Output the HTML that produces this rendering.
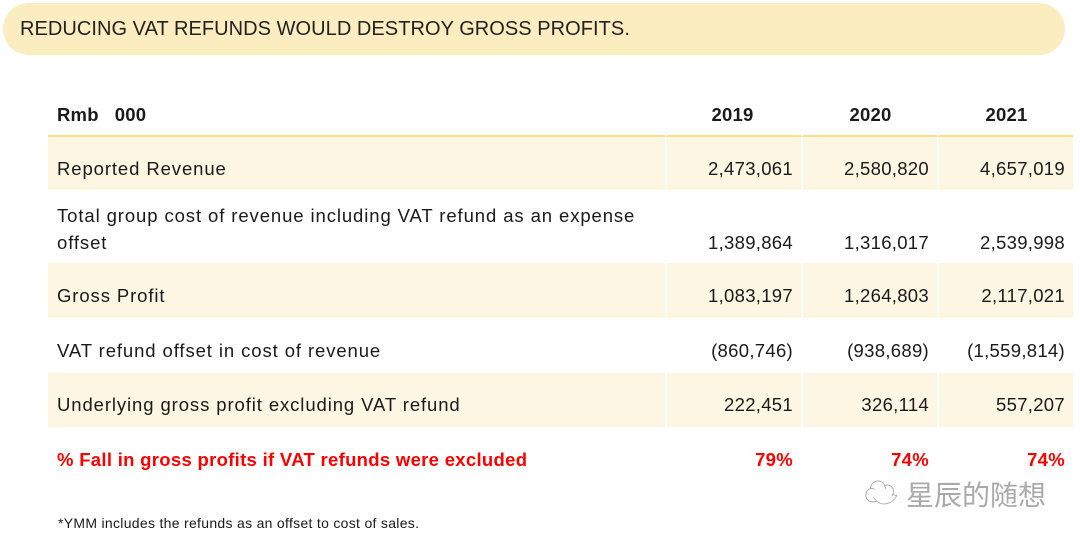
<!DOCTYPE html>
<html><head><meta charset="utf-8"><style>
body{margin:0;width:1080px;height:543px;background:#fff;position:relative;overflow:hidden;font-family:"Liberation Sans","Noto Sans CJK SC",sans-serif;color:#1a1a1a}
.banner{position:absolute;left:3px;top:3px;width:1062px;height:52px;background:#fcedc0;border-radius:26px}
.banner span{position:absolute;left:17px;top:15px;font-size:20px;letter-spacing:0.05px;color:#222}
table{position:absolute;left:48px;top:94px;border-collapse:separate;border-spacing:0;font-size:18.5px}
td{padding:10px 8px 0 9px;vertical-align:middle}
td:first-child{letter-spacing:0.9px}
td.n{text-align:right;border-left:2px solid #fff;letter-spacing:0.3px}
tr.h td{font-weight:bold;height:41px;border-bottom:2px solid #fbe08a;padding-top:0;letter-spacing:0.2px}
tr.s td{background:#fdf6e3}
.red td{color:#f00;font-weight:bold}
.foot{position:absolute;left:58px;top:515px;font-size:14px;letter-spacing:0.3px}
.wm{position:absolute;left:864px;top:466px;font-size:28px;color:#aaa;font-family:"Noto Sans CJK SC",sans-serif}
.wm b{font-weight:normal;font-size:34px;margin-right:8px}
</style></head><body>
<div class="banner"><span>REDUCING VAT REFUNDS WOULD DESTROY GROSS PROFITS.</span></div>
<table>
<colgroup><col style="width:617px"><col style="width:136px"><col style="width:136px"><col style="width:136px"></colgroup>
<tr class="h"><td>Rmb&nbsp;&nbsp;&nbsp;000</td><td class="n" style="text-align:center;padding-left:5px">2019</td><td class="n" style="text-align:center">2020</td><td class="n" style="text-align:center">2021</td></tr>
<tr class="s" style="height:53px"><td>Reported Revenue</td><td class="n">2,473,061</td><td class="n">2,580,820</td><td class="n">4,657,019</td></tr>
<tr style="height:73px"><td style="line-height:27px;padding-top:4px">Total group cost of revenue including VAT refund as an expense<br>offset</td><td class="n" style="vertical-align:bottom;padding-bottom:9px">1,389,864</td><td class="n" style="vertical-align:bottom;padding-bottom:9px">1,316,017</td><td class="n" style="vertical-align:bottom;padding-bottom:9px">2,539,998</td></tr>
<tr class="s" style="height:55px"><td>Gross Profit</td><td class="n">1,083,197</td><td class="n">1,264,803</td><td class="n">2,117,021</td></tr>
<tr style="height:55px"><td>VAT refund offset in cost of revenue</td><td class="n">(860,746)</td><td class="n">(938,689)</td><td class="n">(1,559,814)</td></tr>
<tr class="s" style="height:54px"><td>Underlying gross profit excluding VAT refund</td><td class="n">222,451</td><td class="n">326,114</td><td class="n">557,207</td></tr>
<tr class="red" style="height:56px"><td style="letter-spacing:0.3px">% Fall in gross profits if VAT refunds were excluded</td><td class="n">79%</td><td class="n">74%</td><td class="n">74%</td></tr>
</table>
<div class="wm"><b>☁</b>星辰的随想</div>
<div class="foot">*YMM includes the refunds as an offset to cost of sales.</div>
</body></html>
